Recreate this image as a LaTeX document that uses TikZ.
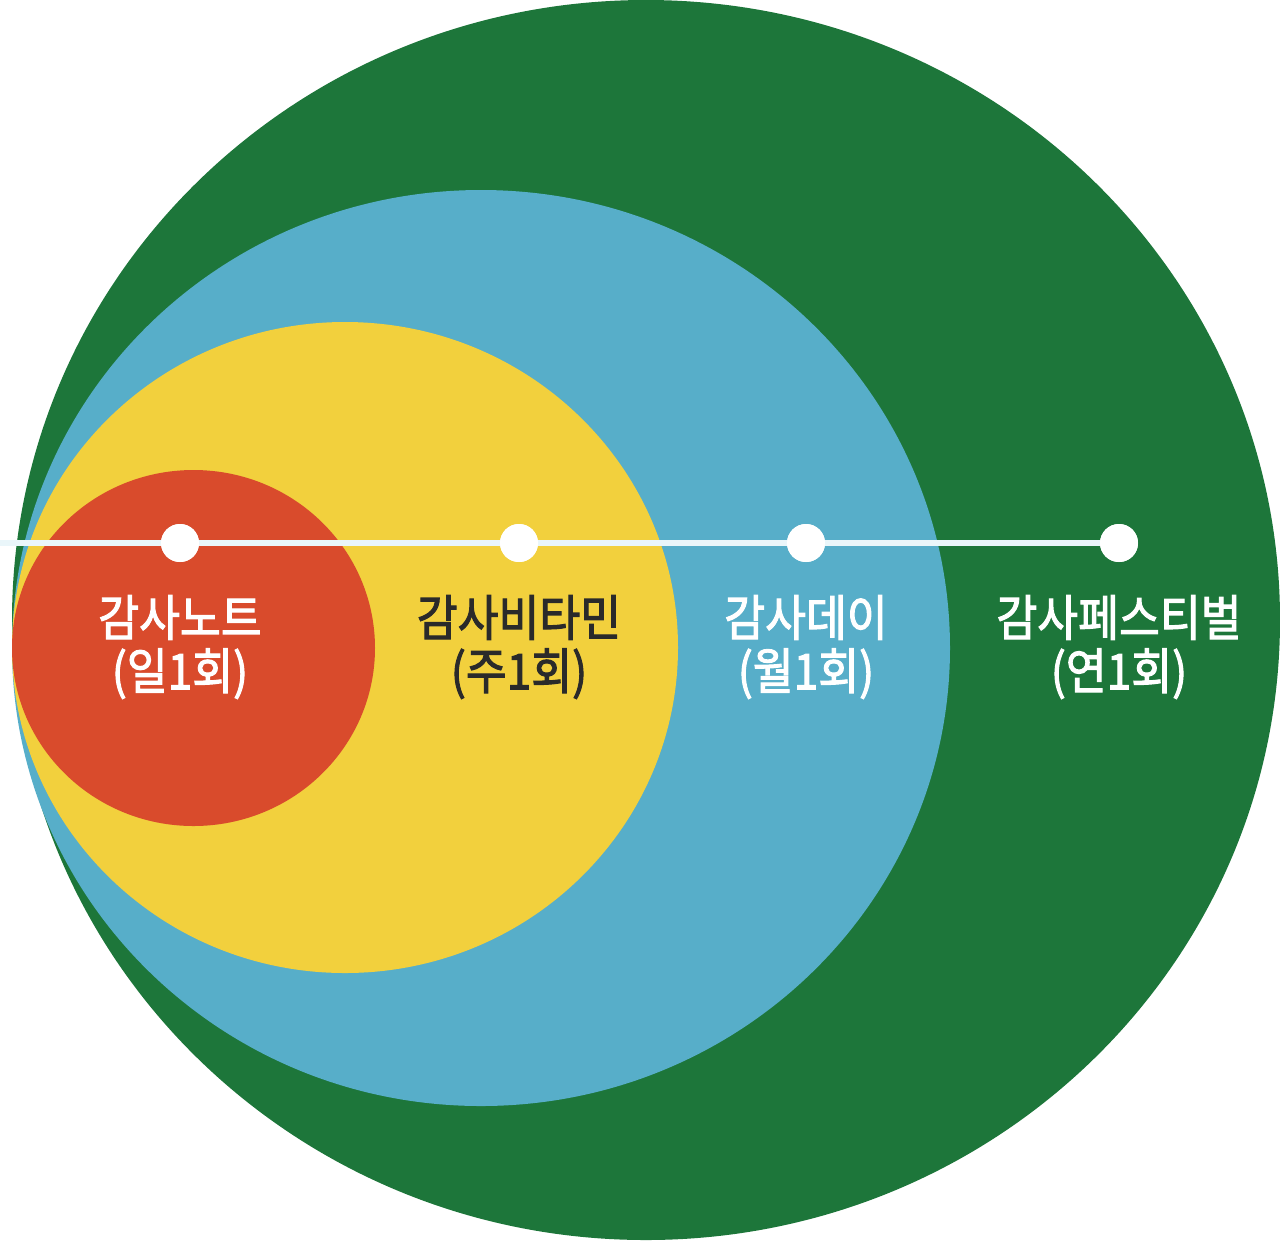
\documentclass[tikz,border=0pt]{standalone}
\usepackage{fontspec}
\newfontfamily\kr{Noto Sans CJK KR}[FakeBold=2.2]
\definecolor{cgreen}{HTML}{1D763A}
\definecolor{cblue}{HTML}{57AEC9}
\definecolor{cyellow}{HTML}{F2D03D}
\definecolor{cred}{HTML}{D94B2C}
\definecolor{cline}{HTML}{EAF6FA}
\definecolor{cdark}{HTML}{2A2A2A}
\tikzset{
  dotmark/.style={circle,fill=white,inner sep=0pt,minimum size=28.5pt},
  lbl/.style={align=center,font=\kr\fontsize{37}{40}\selectfont,xscale=0.9,inner sep=0pt},
}
\begin{document}
\begin{tikzpicture}[x=0.75pt,y=-0.75pt]
\useasboundingbox (0,0) rectangle (1280,1240);
\fill[cgreen] (646,620) ellipse [x radius=634, y radius=620];
\fill[cblue] (481,648) ellipse [x radius=469, y radius=458];
\fill[cyellow] (345,647.5) ellipse [x radius=333, y radius=325.5];
\fill[cred] (193.5,648) ellipse [x radius=181.5, y radius=178];
\coordinate (start) at (0,543);
\node[dotmark] (d1) at (180,543) {};
\node[dotmark] (d2) at (519,543) {};
\node[dotmark] (d3) at (806,543) {};
\node[dotmark] (d4) at (1119,543) {};
\draw[cline,line width=3.8pt] (start) -- (d1.center) -- (d2.center) -- (d3.center) -- (d4.center);
\node[dotmark] at (d1) {};
\node[dotmark] at (d2) {};
\node[dotmark] at (d3) {};
\node[dotmark] at (d4) {};
\node[lbl,text=white] (t1) at (180,647) {감사노트\\(일1회)};
\node[lbl,text=cdark] (t2) at (519,647) {감사비타민\\(주1회)};
\node[lbl,text=white] (t3) at (806,647) {감사데이\\(월1회)};
\node[lbl,text=white] (t4) at (1119,647) {감사페스티벌\\(연1회)};
\end{tikzpicture}
\end{document}
